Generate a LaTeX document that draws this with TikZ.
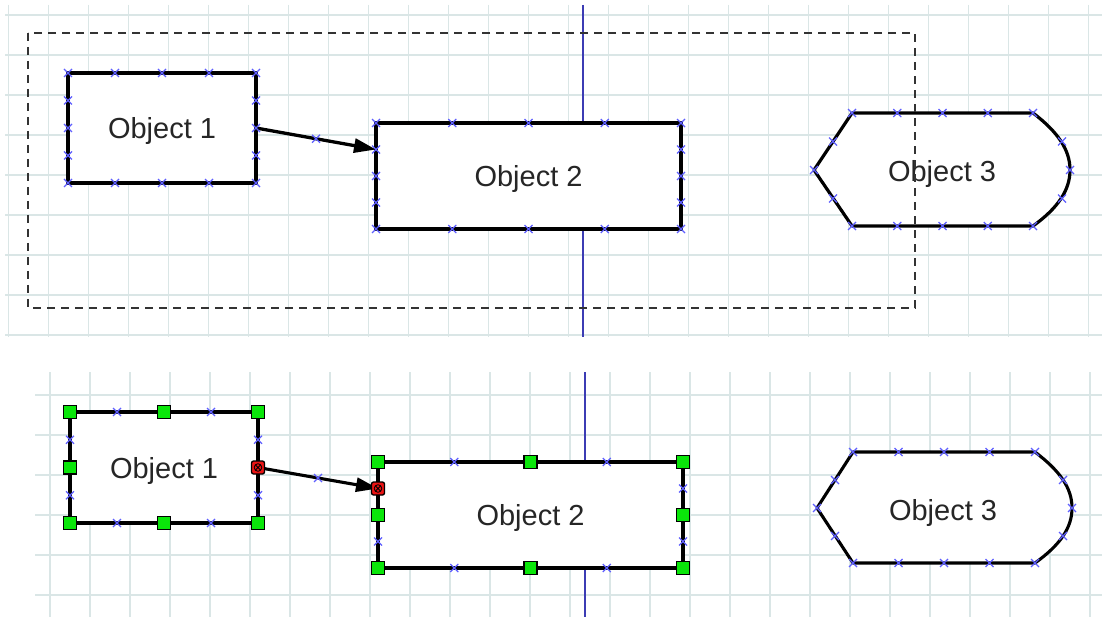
\documentclass[tikz,border=0pt]{standalone}
\usepackage{fontspec}
\setmainfont{Liberation Sans}
\usetikzlibrary{arrows.meta,calc,shapes.misc}
\definecolor{gridc}{RGB}{218,230,230}
\definecolor{guide}{RGB}{60,60,180}
\definecolor{xblue}{RGB}{95,95,255}
\definecolor{hgreen}{RGB}{10,230,10}
\definecolor{hred}{RGB}{235,20,20}
\newcommand\rectmarks[1]{%
  \foreach \f in {0,0.25,0.5,0.75,1}{%
    \node[xm] at ($(#1.north west)!\f!(#1.north east)$) {};
    \node[xm] at ($(#1.south west)!\f!(#1.south east)$) {};
  }%
  \foreach \f in {0.25,0.5,0.75}{%
    \node[xm] at ($(#1.north west)!\f!(#1.south west)$) {};
    \node[xm] at ($(#1.north east)!\f!(#1.south east)$) {};
  }%
}
\begin{document}
\begin{tikzpicture}[x=1pt,y=-1pt,
  gridl/.style={draw=gridc,line width=1.5pt},
  guideline/.style={draw=guide,line width=1.8pt},
  objtop/.style={rectangle,draw=black,fill=white,line width=3.4pt,outer sep=0pt,inner sep=0pt,
    text depth=0pt,font=\fontsize{29}{32}\selectfont,text=black!85},
  objbot/.style={objtop,line width=3.2pt},
  txt/.style={inner sep=0pt,outer sep=0pt,text depth=0pt,font=\fontsize{29}{32}\selectfont,text=black!85},
  shapetop/.style={draw=black,fill=white,line width=3.2pt,line join=round},
  shapebot/.style={shapetop,line width=3.1pt},
  conn/.style={draw=black,line width=3.3pt,-{Triangle[length=22pt,width=14pt]}},
  connbot/.style={conn,line width=3.1pt},
  selbox/.style={draw=black!80,line width=1.4pt,dash pattern=on 8pt off 6pt},
  xm/.style={cross out,draw=xblue,line width=1.2pt,minimum size=8pt,inner sep=0pt,outer sep=0pt},
  gh/.style={rectangle,fill=hgreen,draw=black,line width=1.3pt,minimum size=13pt,inner sep=0pt,outer sep=0pt},
  rh/.style={rectangle,rounded corners=2pt,fill=hred,draw=black,line width=1.3pt,minimum size=13pt,inner sep=0pt,outer sep=0pt,
    path picture={\draw[black,line width=0.8pt] (path picture bounding box.center) circle (3.8pt);
      \draw[black,line width=0.8pt] ($(path picture bounding box.center)+(-2.7pt,-2.7pt)$) -- ($(path picture bounding box.center)+(2.7pt,2.7pt)$)
        ($(path picture bounding box.center)+(-2.7pt,2.7pt)$) -- ($(path picture bounding box.center)+(2.7pt,-2.7pt)$);}}
]
\useasboundingbox (0,0) rectangle (1102,617);
\fill[white] (0,0) rectangle (1102,617);

% ---------- top panel grid ----------
\foreach \i in {0,...,27} \draw[gridl] ({8.3+40*\i},5) -- ({8.3+40*\i},337);
\foreach \j in {0,...,8} \draw[gridl] (5,{15+40*\j}) -- (1102,{15+40*\j});
\draw[guideline] (583,5) -- (583,337);

% ---------- bottom panel grid ----------
\foreach \i in {1,...,27} \draw[gridl] ({10+40*\i},372) -- ({10+40*\i},617);
\foreach \j in {0,...,5} \draw[gridl] (35,{395+40*\j}) -- (1102,{395+40*\j});
\draw[guideline] (585,372) -- (585,617);

% ---------- top panel objects ----------
\node[objtop,minimum width=188pt,minimum height=110pt] (t1) at (162,128) {Object 1};
\node[objtop,minimum width=305pt,minimum height=106pt] (t2) at (528.5,176) {Object 2};
\draw[shapetop] (814,170) -- (852,113) -- (1033,113)
  .. controls (1058,132) and (1070,150) .. (1070,170)
  .. controls (1070,190) and (1058,208) .. (1033,226) -- (852,226) -- cycle;
\node[txt] (t3) at (942,171) {Object 3};
\coordinate (t2in) at ($(t2.north west)!0.25!(t2.south west)$);
\draw[conn] (t1.east) -- (t2in);
\draw[selbox] (28,33) rectangle (915,308);
\rectmarks{t1}
\rectmarks{t2}
\node[xm] at ($(t1.east)!0.5!(t2in)$) {};
\foreach \p in {(852,113),(897.25,113),(942.5,113),(987.75,113),(1033,113),
  (852,226),(897.25,226),(942.5,226),(987.75,226),(1033,226),
  (833,141.5),(833,198.5),(814,170),(1062,141.5),(1070,170),(1062,198.5)}
  \node[xm] at \p {};

% ---------- bottom panel objects ----------
\node[objbot,minimum width=188pt,minimum height=111pt] (b1) at (164,467.5) {Object 1};
\node[objbot,minimum width=305pt,minimum height=106pt] (b2) at (530.5,515) {Object 2};
\draw[shapebot] (817,508) -- (853,452) -- (1035,452)
  .. controls (1060,471) and (1072,488) .. (1072,508)
  .. controls (1072,528) and (1060,545) .. (1035,563) -- (853,563) -- cycle;
\node[txt] (b3) at (943,510) {Object 3};
\coordinate (b2in) at ($(b2.north west)!0.25!(b2.south west)$);
\draw[connbot] (b1.east) -- (b2in);
\node[xm] at ($(b1.east)!0.5!(b2in)$) {};
% markers
\foreach \f in {0.25,0.75}{
  \node[xm] at ($(b1.north west)!\f!(b1.north east)$) {};
  \node[xm] at ($(b1.south west)!\f!(b1.south east)$) {};
  \node[xm] at ($(b1.north west)!\f!(b1.south west)$) {};
  \node[xm] at ($(b1.north east)!\f!(b1.south east)$) {};
  \node[xm] at ($(b2.north west)!\f!(b2.north east)$) {};
  \node[xm] at ($(b2.south west)!\f!(b2.south east)$) {};
  \node[xm] at ($(b2.north east)!\f!(b2.south east)$) {};
}
\node[xm] at ($(b2.north west)!0.75!(b2.south west)$) {};
\foreach \p in {(853,452),(898.5,452),(944,452),(989.5,452),(1035,452),
  (853,563),(898.5,563),(944,563),(989.5,563),(1035,563),
  (835,480),(835,536),(817,508),(1063,480),(1072,508),(1063,536)}
  \node[xm] at \p {};
% handles
\foreach \a in {north west,north,north east,west,south west,south,south east}
  \node[gh] at (b1.\a) {};
\node[rh] at (b1.east) {};
\foreach \a in {north west,north,north east,west,east,south west,south,south east}
  \node[gh] at (b2.\a) {};
\node[rh] at (b2in) {};
\end{tikzpicture}
\end{document}
